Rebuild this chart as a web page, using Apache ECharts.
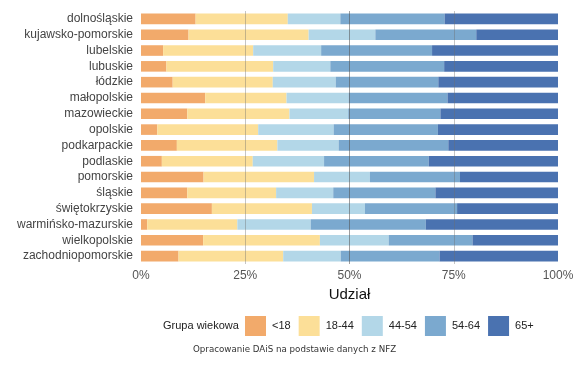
<!DOCTYPE html>
<html>
<head>
<meta charset="utf-8">
<script src="https://cdn.jsdelivr.net/npm/echarts@6/dist/echarts.min.js"></script>
<style>html,body{margin:0;padding:0;background:#fff;}#c{width:588px;height:366px;}</style>
</head>
<body>
<div id="c"></div>
<script>
const categories = ['dolnośląskie','kujawsko-pomorskie','lubelskie','lubuskie','łódzkie','małopolskie','mazowieckie','opolskie','podkarpackie','podlaskie','pomorskie','śląskie','świętokrzyskie','warmińsko-mazurskie','wielkopolskie','zachodniopomorskie'];
const groups = ['<18','18-44','44-54','54-64','65+'];
const under18 = [13.1,11.4,5.3,6.1,7.6,15.4,11.1,3.9,8.6,5.0,15.0,11.1,17.0,1.5,14.9,9.0];
const age18_44 = [22.1,28.8,21.6,25.6,24.0,19.5,24.5,24.2,24.1,21.8,26.5,21.3,24.0,21.6,28.0,25.1];
const age44_54 = [12.6,16.0,16.3,13.7,15.1,14.9,14.1,18.1,14.7,17.1,13.4,13.7,12.7,17.6,16.5,13.8];
const age54_64 = [25.0,24.2,26.6,27.3,24.6,23.7,22.1,25.0,26.3,25.1,21.6,24.5,22.1,27.6,20.1,23.7];
const age65plus = [27.2,19.6,30.2,27.3,28.7,26.5,28.2,28.8,26.3,31.0,23.5,29.4,24.2,31.7,20.5,28.4];
const xTicks = [0,25,50,75,100];
const gridMarks = [25,50,75];

const colors = ['#F2AA6B','#FCDF98','#B3D7E8','#7BA9CF','#4A72B0'];
const seriesData = [under18, age18_44, age44_54, age54_64, age65plus];

const chart = echarts.init(document.getElementById('c'), null, {renderer:'canvas'});
const series = groups.map((g,i)=>({
  name: g,
  type: 'bar',
  stack: 'total',
  barWidth: '67%',
  data: seriesData[i],
  itemStyle: {color: colors[i]},
  emphasis: {disabled: true},
  markLine: i === groups.length-1 ? {
    silent: true,
    symbol: ['none','none'],
    label: {show:false},
    z: 10,
    data: gridMarks.map(v=>({xAxis:v, lineStyle:{color: v===50 ? 'rgba(80,80,80,0.55)' : 'rgba(110,110,110,0.4)', width:1, type:'solid'}}))
  } : undefined
}));

chart.setOption({
  animation: false,
  backgroundColor: '#fff',
  textStyle: {fontFamily: 'Liberation Sans, Arial, sans-serif'},
  grid: {left: 141, right: 30, top: 11, height: 253, containLabel: false},
  xAxis: {
    type: 'value', min: 0, max: 100, interval: 25,
    axisLine: {show:false}, axisTick: {show:false},
    splitLine: {show:false},
    axisLabel: {formatter: v => xTicks.includes(v) ? v + '%' : '', color:'#555', fontSize: 12, margin: 6},
    name: 'Udział', nameLocation: 'middle', nameGap: 21,
    nameTextStyle: {color:'#111', fontSize: 15}
  },
  yAxis: {
    type: 'category', data: categories, inverse: true,
    axisLine: {show:false}, axisTick: {show:false},
    axisLabel: {color:'#444', fontSize: 12, margin: 8}
  },
  legend: {
    data: groups,
    left: 245, top: 316, padding: 0,
    itemWidth: 21, itemHeight: 20, itemGap: 8,
    icon: 'rect',
    textStyle: {color:'#222', fontSize: 11, padding:[0,0,0,1]}
  },
  graphic: [
    {type:'text', left: 163, top: 320, style:{text:'Grupa wiekowa', fill:'#222', font:'11px Liberation Sans, Arial, sans-serif'}},
    {type:'text', left: 193, top: 345, style:{text:'Opracowanie DAiS na podstawie danych z NFZ', fill:'#333', font:'8.7px DejaVu Sans, sans-serif'}}
  ],
  series: series
});
</script>
</body>
</html>
